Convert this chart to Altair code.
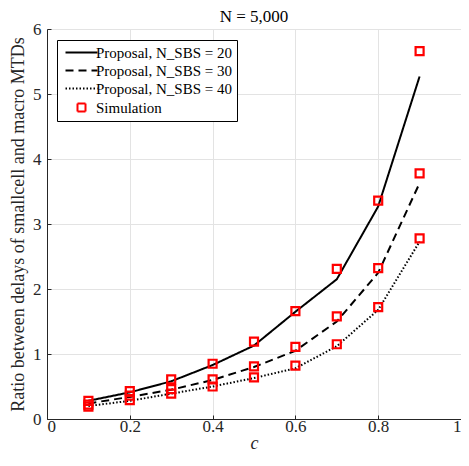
import altair as alt
import pandas as pd

c_vals = [0.1, 0.2, 0.3, 0.4, 0.5, 0.6, 0.7, 0.8, 0.9]
prop20 = [0.28, 0.41, 0.58, 0.83, 1.13, 1.65, 2.15, 3.27, 5.27]
prop30 = [0.24, 0.34, 0.45, 0.60, 0.80, 1.05, 1.50, 2.25, 3.63]
prop40 = [0.20, 0.28, 0.39, 0.50, 0.63, 0.78, 1.12, 1.68, 2.73]
sim20 = [0.28, 0.43, 0.61, 0.85, 1.19, 1.66, 2.31, 3.36, 5.66]
sim30 = [0.22, 0.36, 0.46, 0.61, 0.81, 1.11, 1.58, 2.32, 3.78]
sim40 = [0.19, 0.29, 0.39, 0.50, 0.64, 0.82, 1.15, 1.72, 2.78]

series_names = ["Proposal, N_SBS = 20", "Proposal, N_SBS = 30",
                "Proposal, N_SBS = 40", "Simulation"]

rows = []
for name, vals in zip(series_names[:3], [prop20, prop30, prop40]):
    for c, v in zip(c_vals, vals):
        rows.append({"c": c, "ratio": v, "series": name, "grp": name})
lines_df = pd.DataFrame(rows)

rows = []
for g, vals in zip(["20", "30", "40"], [sim20, sim30, sim40]):
    for c, v in zip(c_vals, vals):
        rows.append({"c": c, "ratio": v, "series": "Simulation", "grp": g})
sim_df = pd.DataFrame(rows)

FONT = "Liberation Serif"
AX = "#262626"

legend = alt.Legend(
    orient="none", legendX=10, legendY=11, title=None,
    strokeColor="black", fillColor="white", padding=5,
    labelFont=FONT, labelFontSize=15, labelColor="black",
    symbolSize=64, symbolStrokeWidth=2, symbolOffset=12, labelOffset=7,
    rowPadding=2, cornerRadius=0,
)

stroke_scale = alt.Scale(domain=series_names, range=["black", "black", "black", "red"])
dash_scale = alt.Scale(domain=series_names, range=[[1, 0], [8, 5], [1.5, 2], [1, 0]])
shape_scale = alt.Scale(domain=series_names,
                        range=["M-4,0H4", "M-4,0H4", "M-4,0H4", "M-1,-1H1V1H-1Z"])

x_enc = alt.X("c:Q", scale=alt.Scale(domain=[0, 1], nice=False),
              axis=alt.Axis(values=[0, 0.2, 0.4, 0.6, 0.8, 1], format="~g",
                            title="c", titleFontStyle="italic"))
y_enc = alt.Y("ratio:Q", scale=alt.Scale(domain=[0, 6], nice=False),
              axis=alt.Axis(values=[0, 1, 2, 3, 4, 5, 6],
                            title="Ratio between delays of smallcell and macro MTDs"))

lines = alt.Chart(lines_df).mark_line(strokeWidth=2).encode(
    x=x_enc, y=y_enc,
    stroke=alt.Stroke("series:N", scale=stroke_scale, legend=legend),
    strokeDash=alt.StrokeDash("series:N", scale=dash_scale, legend=legend),
    detail="grp:N",
)

points = alt.Chart(sim_df).mark_point(filled=False, strokeWidth=2.2, size=64, opacity=1).encode(
    x=x_enc, y=y_enc,
    stroke=alt.Stroke("series:N", scale=stroke_scale, legend=legend),
    shape=alt.Shape("series:N", scale=shape_scale, legend=legend),
)

chart = alt.layer(lines, points).properties(
    width=414, height=390,
    title=alt.Title("N = 5,000", font=FONT, fontSize=17, fontWeight="normal",
                    color="black", offset=4, dy=10, frame="group"),
    autosize=alt.AutoSizeParams(type="none"),
    padding={"left": 39, "top": 21, "right": 0, "bottom": 38},
).configure_view(stroke=None).configure_axis(
    labelFont=FONT, titleFont=FONT, labelFontSize=17, titleFontSize=18,
    labelColor=AX, titleColor=AX, titleFontWeight="normal",
    domainColor=AX, domainWidth=1, ticks=True, tickColor=AX,
    tickSize={"expr": "-4"},
    gridColor="#e3e3e3", gridWidth=1, labelPadding=3,
).configure_axisY(titlePadding=5, labelPadding=10).configure_axisX(titlePadding=0)

chart.save("out.html", embed_options={"renderer": "svg", "actions": False})
